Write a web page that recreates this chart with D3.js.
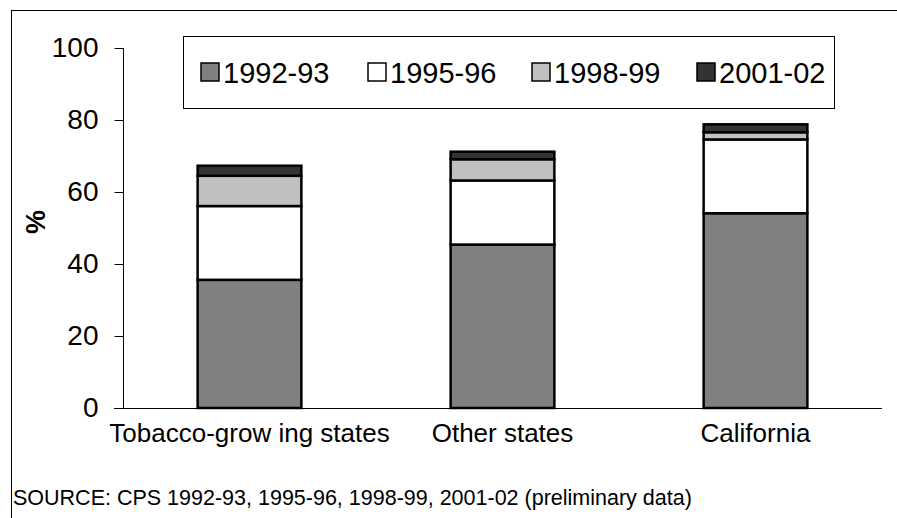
<!DOCTYPE html>
<html>
<head>
<meta charset="utf-8">
<script src="https://cdn.jsdelivr.net/npm/d3@7"></script>
<style>
  html, body { margin: 0; padding: 0; background: #fff; }
  svg { display: block; font-family: "Liberation Sans", Arial, sans-serif; }
</style>
</head>
<body>
<svg id="chart" width="897" height="518"></svg>
<script>
const categories = ["Tobacco-grow ing states", "Other states", "California"];
const seriesNames = ["1992-93", "1995-96", "1998-99", "2001-02"];
const v1992 = [35.6, 45.4, 54.1];
const v1995 = [20.5, 17.8, 20.5];
const v1998 = [8.4, 5.9, 2.0];
const v2001 = [2.8, 2.1, 2.2];
const yTicks = [0, 20, 40, 60, 80, 100];
const colors = ["#808080", "#ffffff", "#c0c0c0", "#333333"];
const sourceText = "SOURCE:  CPS 1992-93, 1995-96, 1998-99, 2001-02 (preliminary data)";

const seriesValues = [v1992, v1995, v1998, v2001];
const rows = categories.map((c, i) => {
  const r = { cat: c };
  seriesNames.forEach((s, j) => r[s] = seriesValues[j][i]);
  return r;
});

const svg = d3.select("#chart");

// outer frame (right/bottom edges fall outside the image)
svg.append("rect").attr("x", 11.5).attr("y", 10.5)
  .attr("width", 1000).attr("height", 1000)
  .attr("fill", "none").attr("stroke", "#000").attr("stroke-width", 1);

const x = d3.scaleBand().domain(categories).range([123, 882])
  .paddingInner(0.59).paddingOuter(0.295);
const y = d3.scaleLinear().domain([0, 100]).range([408, 48]);

const stack = d3.stack().keys(seriesNames)(rows);

svg.append("g").selectAll("g").data(stack).join("g")
  .attr("fill", (d, i) => colors[i])
  .selectAll("rect").data(d => d).join("rect")
  .attr("x", d => x(d.data.cat))
  .attr("width", x.bandwidth())
  .attr("y", d => y(d[1]))
  .attr("height", d => y(d[0]) - y(d[1]))
  .attr("stroke", "#000").attr("stroke-width", 2.5);

// y axis
const yAxis = svg.append("g").attr("transform", "translate(123.5,0)")
  .call(d3.axisLeft(y).tickValues(yTicks).tickSize(9).tickPadding(16));
yAxis.select(".domain").attr("stroke", "#000").attr("d", "M0," + y(100) + "V" + y(0));
yAxis.selectAll(".tick line").attr("stroke", "#000");
yAxis.selectAll(".tick text").attr("font-size", 28).attr("fill", "#000")
  .attr("font-family", "Liberation Sans, Arial, sans-serif");

// baseline
svg.append("line").attr("x1", 114).attr("x2", 882)
  .attr("y1", y(0) + 0.5).attr("y2", y(0) + 0.5)
  .attr("stroke", "#000").attr("stroke-width", 1);

// category labels
svg.append("g").selectAll("text").data(categories).join("text")
  .attr("x", d => x(d) + x.bandwidth() / 2)
  .attr("y", 442)
  .attr("text-anchor", "middle")
  .attr("font-size", 26)
  .text(d => d);

// y title
svg.append("text")
  .attr("transform", "translate(45,222) rotate(-90)")
  .attr("text-anchor", "middle")
  .attr("font-size", 27).attr("font-weight", "bold")
  .text("%");

// legend
const lg = svg.append("g");
lg.append("rect").attr("x", 183.5).attr("y", 36.5).attr("width", 651).attr("height", 72)
  .attr("fill", "#fff").attr("stroke", "#000").attr("stroke-width", 1);
const legendX = [201, 368, 532, 697];
const items = lg.selectAll("g.item").data(seriesNames).join("g").attr("class", "item")
  .attr("transform", (d, i) => "translate(" + legendX[i] + ",0)");
items.append("rect").attr("x", 0).attr("y", 63).attr("width", 18).attr("height", 18)
  .attr("fill", (d, i) => colors[i]).attr("stroke", "#000").attr("stroke-width", 1.5);
items.append("text").attr("x", 22).attr("y", 83).attr("font-size", 29).text(d => d);

// source
svg.append("text").attr("x", 13).attr("y", 505).attr("font-size", 21.5).text(sourceText);
</script>
</body>
</html>
